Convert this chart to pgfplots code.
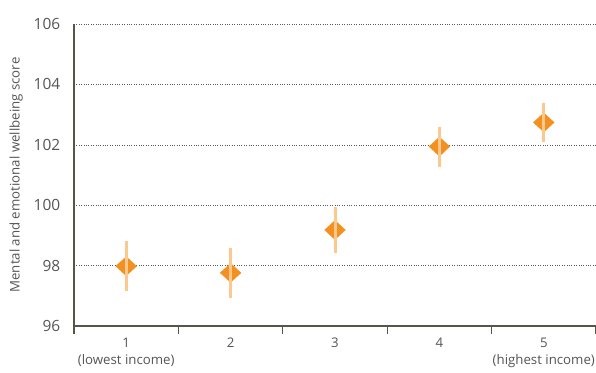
\documentclass[border=0pt]{standalone}
\usepackage{fontspec}
\setmainfont{Open Sans}
\usepackage{pgfplots}
\pgfplotsset{compat=1.18}

\definecolor{markc}{HTML}{F39020}
\definecolor{barc}{HTML}{FBC890}
\definecolor{axisc}{HTML}{55554A}
\definecolor{gridc}{HTML}{5A5A5A}
\definecolor{textc}{HTML}{555555}

% income quintile, mean score, upper and lower error
\pgfplotstableread{
x   y      ep    em
1   97.98  0.83  0.82
2   97.76  0.83  0.82
3   99.18  0.77  0.75
4   101.94 0.64  0.67
5   102.74 0.65  0.66
}\scores

\pgfplotsset{
  frame/.style={
    at={(0,0)}, anchor=south west,
    scale only axis,
    width=522bp, height=302bp,
    xmin=0.5, xmax=5.5,
    ymin=96, ymax=106,
    clip=false,
  }
}

\begin{document}
\begin{tikzpicture}[x=1bp,y=1bp]
\path[use as bounding box] (-74,-46) rectangle (522,326);
\begin{axis}[
  frame,
  axis x line*=bottom, axis y line*=left,
  axis line style={color=axisc, line width=1.3bp, -},
  xtick={1,2,3,4,5},
  xticklabels={{1\\(lowest income)},2,3,4,{5\\(highest income)}},
  xticklabel style={align=center, text=textc, anchor=north, yshift=-4bp,
    font=\fontsize{13.3}{17}\selectfont},
  major x tick style={draw=none},
  minor xtick={0.5,1.5,2.5,3.5,4.5,5.5},
  minor x tick style={color=axisc, line width=1.3bp},
  minor tick length=8bp,
  tick align=outside,
  ytick={96,98,...,106},
  major y tick style={draw=none},
  yticklabel style={text=textc, anchor=east, xshift=-6bp,
    font=\fontsize{15.5}{17}\selectfont},
  /pgf/number format/assume math mode=true,
  ymajorgrids,
  major grid style={color=gridc, dotted, line width=0.6bp},
  ylabel={Mental and emotional wellbeing score},
  ylabel style={text=textc, font=\fontsize{13.3}{15}\selectfont},
  every axis y label/.append style={at={(axis description cs:-0.111,0.5)},
    anchor=center},
]
\addplot[only marks, mark=diamond*, mark size=9.5bp,
  mark options={fill=markc, draw=markc, xscale=1.45}]
  table[x=x, y=y] {\scores};
\end{axis}
% confidence intervals, laid over the markers
\begin{axis}[frame, hide axis]
\addplot[draw=none, no markers,
  error bars/.cd, y dir=both, y explicit,
  error mark=none,
  error bar style={color=barc, line width=3bp, solid}]
  table[x=x, y=y, y error plus=ep, y error minus=em] {\scores};
\end{axis}
\end{tikzpicture}
\end{document}
